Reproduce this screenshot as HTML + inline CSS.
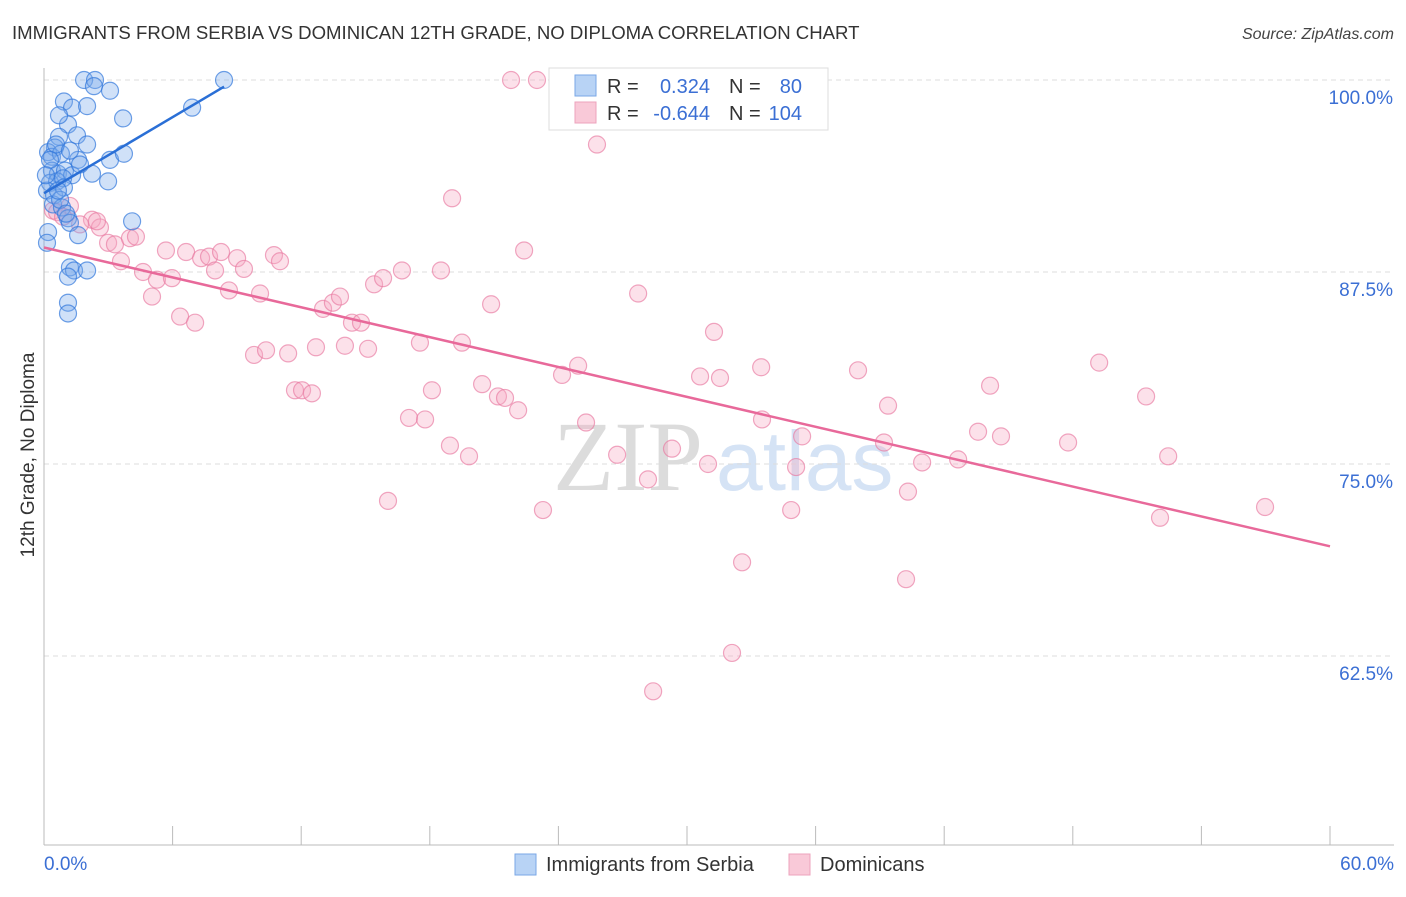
<!DOCTYPE html>
<html><head><meta charset="utf-8"><style>
html,body{margin:0;padding:0;background:#fff;}
body{width:1406px;height:892px;overflow:hidden;font-family:"Liberation Sans",sans-serif;}
</style></head><body>
<svg id="chart" width="1406" height="892" xmlns="http://www.w3.org/2000/svg" font-family="Liberation Sans, sans-serif">
<text x="12" y="39" font-size="18.6" fill="#333">IMMIGRANTS FROM SERBIA VS DOMINICAN 12TH GRADE, NO DIPLOMA CORRELATION CHART</text>
<text x="1394" y="39" font-size="16" fill="#444" text-anchor="end" font-style="italic">Source: ZipAtlas.com</text>
<text transform="translate(34,455) rotate(-90)" font-size="19" fill="#333" text-anchor="middle">12th Grade, No Diploma</text>
<g>
<text x="553" y="490" font-family="Liberation Serif, serif" font-size="100" fill="#dcdcdc">ZIP</text>
<text x="716" y="490" font-size="84" fill="#d5e3f5">atlas</text>
</g>
<g id="grid"></g>
<g id="axes"></g>
<g id="pink"></g>
<g id="blue"></g>
<g id="lines"></g>
<g>
<rect x="549" y="68" width="279" height="62" fill="#fff" stroke="#ddd"/>
<rect x="575" y="75" width="21" height="21" fill="#b8d3f5" stroke="#7aa7e6"/>
<rect x="575" y="102" width="21" height="21" fill="#f9c9d8" stroke="#eda3bd"/>
<text x="607" y="93" font-size="20" fill="#333">R =</text>
<text x="710" y="93" font-size="20" fill="#3b6fd4" text-anchor="end">0.324</text>
<text x="729" y="93" font-size="20" fill="#333">N =</text>
<text x="802" y="93" font-size="20" fill="#3b6fd4" text-anchor="end">80</text>
<text x="607" y="120" font-size="20" fill="#333">R =</text>
<text x="710" y="120" font-size="20" fill="#3b6fd4" text-anchor="end">-0.644</text>
<text x="729" y="120" font-size="20" fill="#333">N =</text>
<text x="802" y="120" font-size="20" fill="#3b6fd4" text-anchor="end">104</text>
</g>
<g>
<rect x="515" y="854" width="21" height="21" fill="#b8d3f5" stroke="#7aa7e6"/>
<text x="546" y="871" font-size="20" fill="#333">Immigrants from Serbia</text>
<rect x="789" y="854" width="21" height="21" fill="#f9c9d8" stroke="#eda3bd"/>
<text x="820" y="871" font-size="20" fill="#333">Dominicans</text>
</g>
</svg>
<script>
const xTicks=[0,6,12,18,24,30,36,42,48,54,60];
const yTicks=[100,87.5,75,62.5];
const yTickLabels=["100.0%","87.5%","75.0%","62.5%"];
const xEndLabels=["0.0%","60.0%"];
const serbiaX=[1.87,2.38,8.40,2.33,3.08,0.93,1.31,2.01,3.69,1.12,0.70,6.91,0.70,1.54,2.01,0.51,0.19,0.37,0.79,1.59,3.08,3.73,2.24,0.37,0.65,0.98,1.31,0.28,0.61,0.89,2.99,0.14,0.47,0.93,0.42,0.84,1.12,1.21,4.11,1.59,0.19,0.14,1.21,1.40,2.01,1.12,1.12,1.12,0.75,1.03,0.56,0.28,0.09,1.21,1.68,0.65];
const serbiaY=[100,100,100,99.6,99.3,98.6,98.2,98.3,97.5,97.1,97.7,98.2,96.3,96.4,95.8,95.6,95.3,95.0,95.2,94.8,94.8,95.2,93.9,94.1,93.9,94.1,93.8,93.3,93.4,93.6,93.4,92.8,92.5,93.0,91.9,91.7,91.0,90.7,90.8,89.9,90.1,89.4,87.8,87.6,87.6,87.2,85.5,84.8,92.2,91.3,95.8,94.8,93.8,95.4,94.5,92.8];
const domX=[21.79,23.00,25.80,19.04,22.40,0.42,1.21,2.24,2.61,1.68,0.61,0.89,2.99,3.31,4.01,4.29,3.59,4.62,5.04,5.27,5.69,5.97,6.35,6.63,7.05,7.33,7.70,7.98,8.26,8.63,9.01,9.33,9.80,10.08,10.36,10.73,11.01,11.39,11.71,12.04,12.50,12.69,13.02,13.48,13.81,14.04,14.37,14.79,15.12,15.40,15.82,16.05,16.70,17.03,17.54,17.78,18.10,18.52,18.94,19.50,19.83,20.44,20.86,21.18,21.51,22.12,23.28,24.17,24.92,25.29,26.74,27.72,28.18,29.30,30.98,30.61,31.26,31.54,32.57,32.10,28.42,33.46,33.50,34.86,35.09,35.37,37.98,39.19,39.38,40.22,40.31,40.97,42.65,43.58,44.14,44.65,47.78,49.23,51.42,52.07,52.45,56.97,2.47];
const domY=[100,100,95.8,92.3,88.9,91.5,91.8,90.9,90.4,90.6,91.4,91.1,89.4,89.3,89.7,89.8,88.2,87.5,85.9,87.0,88.9,87.1,84.6,88.8,84.2,88.4,88.5,87.6,88.8,86.3,88.4,87.7,82.1,86.1,82.4,88.6,88.2,82.2,79.8,79.8,79.6,82.6,85.1,85.5,85.9,82.7,84.2,84.2,82.5,86.7,87.1,72.6,87.6,78.0,82.9,77.9,79.8,87.6,76.2,82.9,75.5,80.2,85.4,79.4,79.3,78.5,72.0,80.8,81.4,77.7,75.6,86.1,74.0,76.0,75.0,80.7,83.6,80.6,68.6,62.7,60.2,81.3,77.9,72.0,74.8,76.8,81.1,76.4,78.8,67.5,73.2,75.1,75.3,77.1,80.1,76.8,76.4,81.6,79.4,71.5,75.5,72.2,90.8];
const NS="http://www.w3.org/2000/svg";
const X0=44,X1=1330,YT=80,YB=845;
function sx(v){return X0+(v-0)/60*(X1-X0);}
function sy(v){return YT+(100-v)*15.36;}
function mk(tag,attrs,parent){const e=document.createElementNS(NS,tag);for(const k in attrs)e.setAttribute(k,attrs[k]);parent.appendChild(e);return e;}
const grid=document.getElementById('grid'),axes=document.getElementById('axes');
yTicks.forEach((t,i)=>{
  const l=mk('line',{x1:X0,x2:1394,y1:sy(t),y2:sy(t),stroke:'#ddd','stroke-dasharray':'5,4'},grid);
  
  
  const tx=mk('text',{x:1393,y:sy(t)+24,'font-size':19,fill:'#3b6fd4','text-anchor':'end'},axes);
  tx.textContent=yTickLabels[i];
  
  
});
const ya=mk('line',{x1:X0,x2:X0,y1:68,y2:YB,stroke:'#bbb'},axes);


const xa=mk('line',{x1:X0,x2:1394,y1:YB,y2:YB,stroke:'#bbb'},axes);


xTicks.forEach(t=>{
  const l=mk('line',{x1:sx(t),x2:sx(t),y1:YB,y2:826,stroke:'#bbb'},axes);
  
  
});
const xl0=mk('text',{x:X0,y:870,'font-size':19,fill:'#3b6fd4'},axes);xl0.textContent=xEndLabels[0];


const xl1=mk('text',{x:1394,y:870,'font-size':19,fill:'#3b6fd4','text-anchor':'end'},axes);xl1.textContent=xEndLabels[1];


function dots(xs,ys,g,fill,stroke,name){
  xs.forEach((x,i)=>{
    const c=mk('circle',{cx:sx(x),cy:sy(ys[i]),r:8.5,fill:fill,stroke:stroke,'stroke-width':1.2},g);
    
    
  });
}
dots(domX,domY,document.getElementById('pink'),'rgba(246,170,195,0.35)','rgba(232,120,160,0.65)','dominican-point');
dots(serbiaX,serbiaY,document.getElementById('blue'),'rgba(120,170,235,0.35)','rgba(50,120,220,0.7)','serbia-point');
function fit(xs,ys){const n=xs.length;let mx=0,my=0;xs.forEach((x,i)=>{mx+=x;my+=ys[i];});mx/=n;my/=n;let a=0,b=0;xs.forEach((x,i)=>{a+=(x-mx)*(ys[i]-my);b+=(x-mx)*(x-mx);});const s=a/b;return [s,my-s*mx];}
const lg=document.getElementById('lines');
const [sb,ib]=fit(serbiaX,serbiaY);
let xe=Math.max(...serbiaX);let ye=ib+sb*xe;if(ye>100){xe=(100-ib)/sb;ye=100;}
const bl=mk('line',{x1:sx(0),y1:sy(ib),x2:sx(xe),y2:sy(ye),stroke:'#2a6fd6','stroke-width':2.5},lg);


const [sp,ip]=fit(domX,domY);
const pl=mk('line',{x1:sx(0),y1:sy(ip),x2:sx(60),y2:sy(ip+sp*60),stroke:'#e8699a','stroke-width':2.5},lg);


</script>
</body></html>
